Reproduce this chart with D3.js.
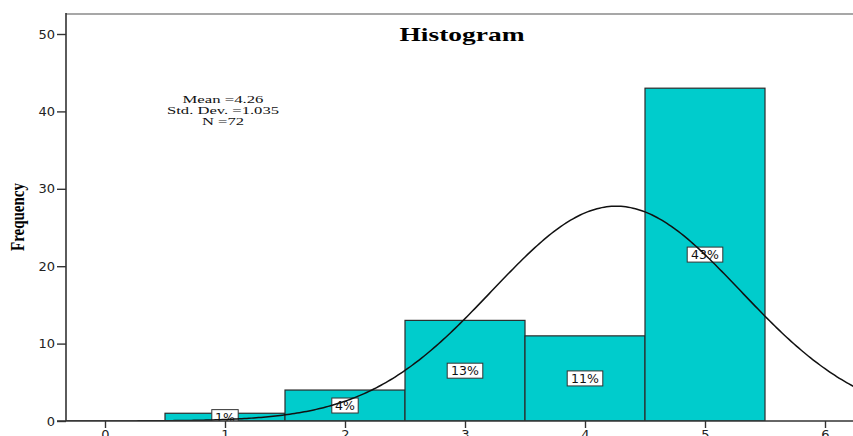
<!DOCTYPE html>
<html lang="en">
  <head>
    <meta charset="UTF-8" />
    <title>Histogram</title>
    <script src="https://cdn.jsdelivr.net/npm/d3@7/dist/d3.min.js"></script>
    <style>
      html,
      body {
        margin: 0;
        padding: 0;
        background: #fff;
      }
      svg {
        display: block;
      }
    </style>
  </head>
  <body>
    <svg width="853" height="436"></svg>
    <script>
      // bins (centre values), counts and the labels printed on the bars
      const binCenters = [1, 2, 3, 4, 5];
      const counts = [1, 4, 13, 11, 43];
      const barLabels = ['1%', '4%', '13%', '11%', '43%'];
      const xTicks = [0, 1, 2, 3, 4, 5, 6];
      const yTicks = [0, 10, 20, 30, 40, 50];
      const statLines = ['Mean =4.26', 'Std. Dev. =1.035', 'N =72'];
      const mean = 4.26;
      const sd = 1.035;
      const n = 72;

      const svg = d3.select('svg');
      const plotLeft = 66;
      const plotTop = 14;
      const plotBottom = 421;
      const plotRight = 900;

      const x = d3.scaleLinear().domain([0, 6]).range([105, 825]);
      const y = d3.scaleLinear().domain([0, 50]).range([plotBottom, 34]);
      const binW = 1;

      svg.append('defs')
        .append('clipPath')
        .attr('id', 'plot')
        .append('rect')
        .attr('x', plotLeft)
        .attr('y', plotTop)
        .attr('width', plotRight - plotLeft)
        .attr('height', plotBottom - plotTop);

      // frame top line
      svg.append('line')
        .attr('x1', plotLeft).attr('x2', plotRight)
        .attr('y1', plotTop).attr('y2', plotTop)
        .attr('stroke', '#8a8a8a').attr('stroke-width', 1.5);

      const plot = svg.append('g').attr('clip-path', 'url(#plot)');

      plot.selectAll('rect.bar')
        .data(counts)
        .enter()
        .append('rect')
        .attr('class', 'bar')
        .attr('x', (d, i) => x(binCenters[i] - binW / 2))
        .attr('width', (d, i) => x(binCenters[i] + binW / 2) - x(binCenters[i] - binW / 2))
        .attr('y', d => y(d))
        .attr('height', d => y(0) - y(d))
        .attr('fill', '#00cccc')
        .attr('stroke', '#2b2b2b')
        .attr('stroke-width', 1.2);

      // percent labels at half height of each bar
      const lab = plot.selectAll('g.lab')
        .data(counts)
        .enter()
        .append('g')
        .attr('class', 'lab')
        .attr('transform', (d, i) => `translate(${x(binCenters[i])},${y(d / 2)})`);

      lab.append('rect')
        .attr('x', (d, i) => -(barLabels[i].length * 4.6 + 4))
        .attr('width', (d, i) => barLabels[i].length * 9.2 + 8)
        .attr('y', -7.5)
        .attr('height', 15)
        .attr('fill', '#fff')
        .attr('stroke', '#333')
        .attr('stroke-width', 1);

      lab.append('text')
        .attr('text-anchor', 'middle')
        .attr('dy', '0.36em')
        .style('font-family', 'DejaVu Sans, sans-serif')
        .style('font-size', '12.5px')
        .attr('fill', '#111')
        .text((d, i) => barLabels[i]);

      // fitted normal curve from the reported mean / sd / N
      const curveX = d3.range(-0.4, 6.6, 0.02);
      const dens = v => n * binW / (sd * Math.sqrt(2 * Math.PI)) *
        Math.exp(-0.5 * Math.pow((v - mean) / sd, 2));
      plot.append('path')
        .datum(curveX)
        .attr('fill', 'none')
        .attr('stroke', '#111')
        .attr('stroke-width', 1.5)
        .attr('d', d3.line().x(v => x(v)).y(v => y(dens(v))));

      // axes
      const yAxis = d3.axisLeft(y).tickValues(yTicks).tickFormat(d3.format('d')).tickSize(9).tickPadding(2);
      const yG = svg.append('g').attr('transform', `translate(${plotLeft},0)`).call(yAxis);
      yG.select('.domain').remove();
      svg.append('line')
        .attr('x1', plotLeft).attr('x2', plotLeft)
        .attr('y1', plotTop - 1).attr('y2', plotBottom)
        .attr('stroke', '#333').attr('stroke-width', 1.6);

      const xAxis = d3.axisBottom(x).tickValues(xTicks).tickFormat(d3.format('d')).tickSize(7).tickPadding(2);
      const xG = svg.append('g').attr('transform', `translate(0,${plotBottom})`).call(xAxis);
      xG.select('.domain').remove();
      svg.append('line')
        .attr('x1', plotLeft - 9).attr('x2', plotRight)
        .attr('y1', plotBottom).attr('y2', plotBottom)
        .attr('stroke', '#333').attr('stroke-width', 1.6);

      svg.selectAll('.tick line').attr('stroke', '#333').attr('stroke-width', 1.4);
      svg.selectAll('.tick text')
        .style('font-family', 'DejaVu Sans, sans-serif')
        .style('font-size', '13px')
        .attr('fill', '#222');

      // title
      svg.append('text')
        .attr('x', 462)
        .attr('y', 41)
        .attr('text-anchor', 'middle')
        .attr('textLength', 125)
        .attr('lengthAdjust', 'spacingAndGlyphs')
        .style('font-family', 'Liberation Serif, serif')
        .style('font-weight', 'bold')
        .style('font-size', '19px')
        .text('Histogram');

      // stats box
      const statW = [81, 112, 42];
      svg.selectAll('text.stat')
        .data(statLines)
        .enter()
        .append('text')
        .attr('class', 'stat')
        .attr('x', 223)
        .attr('y', (d, i) => 103 + i * 11)
        .attr('text-anchor', 'middle')
        .attr('textLength', (d, i) => statW[i])
        .attr('lengthAdjust', 'spacingAndGlyphs')
        .style('font-family', 'Liberation Serif, serif')
        .style('font-size', '10.5px')
        .attr('fill', '#111')
        .text(d => d);

      // y label
      svg.append('text')
        .attr('transform', 'translate(24,217) rotate(-90)')
        .attr('text-anchor', 'middle')
        .attr('textLength', 68)
        .attr('lengthAdjust', 'spacingAndGlyphs')
        .style('font-family', 'Liberation Serif, serif')
        .style('font-weight', 'bold')
        .style('font-size', '18px')
        .text('Frequency');
    </script>
  </body>
</html>
